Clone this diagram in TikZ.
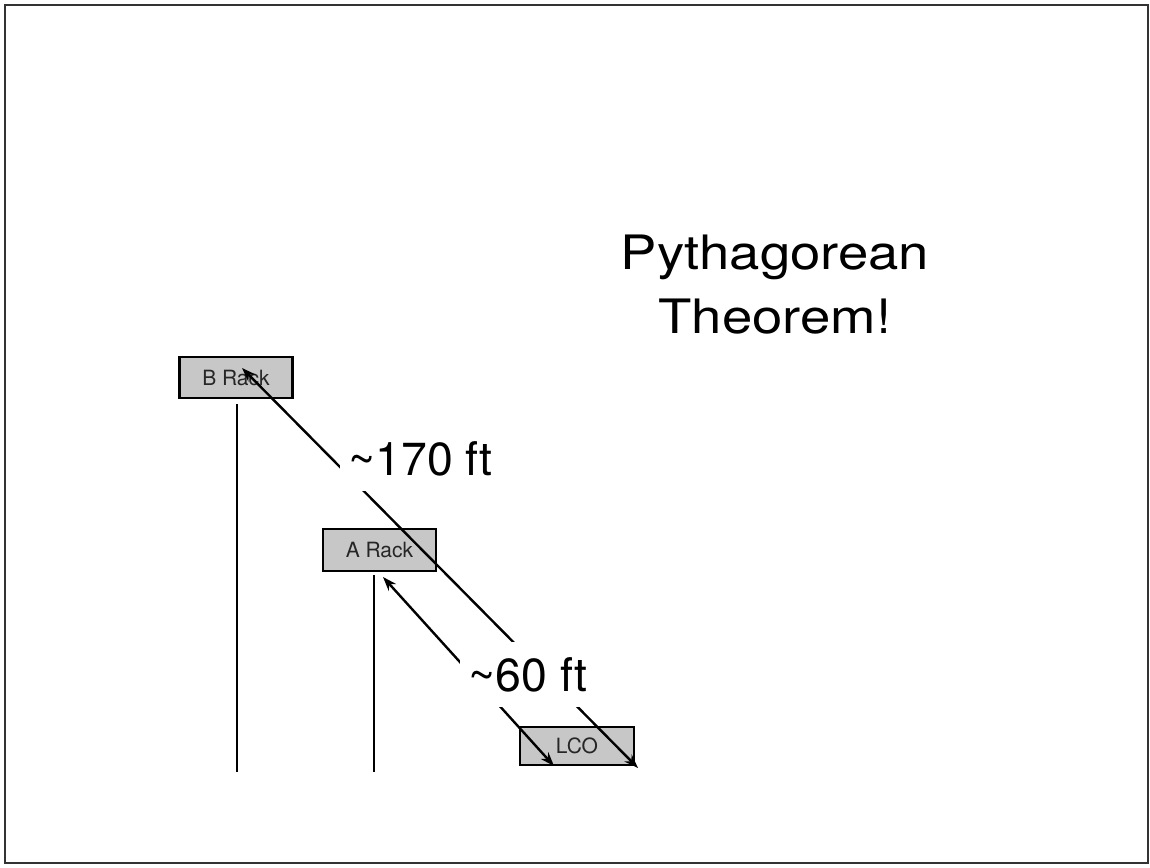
\documentclass[tikz,border=0pt]{standalone}
\usepackage{fontspec}
\setmainfont{TeX Gyre Heros}
\newfontfamily\titlefont[FakeStretch=1.15]{TeX Gyre Heros}
\usetikzlibrary{arrows.meta}
\begin{document}
\begin{tikzpicture}[x=0.5pt,y=-0.5pt,
  frame/.style={draw=black!80,line width=0.75pt},
  rack/.style={draw=black,line width=1.2pt,fill=black!22,minimum width=56.5pt,minimum height=20.5pt,inner sep=0pt,font=\fontsize{10.5}{12}\selectfont,text=black!85},
  post/.style={line width=1.3pt,black},
  arr/.style={line width=1.2pt,black,{Stealth[length=7pt,width=5pt]}-{Stealth[length=7pt,width=5pt]}},
  dist/.style={fill=white,inner xsep=4pt,inner ysep=7.5pt,font=\fontsize{23.2}{28}\selectfont,anchor=base west},
  ttl/.style={font=\titlefont\fontsize{23.7}{28}\selectfont,anchor=base,inner sep=0pt}]
\useasboundingbox (0,0) rectangle (1150,867);
\draw[frame] (5,5) rectangle (1148,863);
% racks
\node[rack] (brack) at (236,377.5) {B Rack};
\node[rack,minimum height=21pt] (arack) at (379.5,550) {A Rack};
\node[rack,minimum width=57pt,minimum height=19pt] (lco) at (577,746) {LCO};
% posts
\coordinate (btop) at (237,404);
\coordinate (bbot) at (237,772);
\coordinate (atop) at (374,575);
\coordinate (abot) at (374,772);
\draw[post] (btop) -- (bbot);
\draw[post] (atop) -- (abot);
% distance arrows
\coordinate (l1s) at (242,368);
\coordinate (l1e) at (638,768);
\coordinate (l2s) at (383,577);
\coordinate (l2e) at (554,766);
\draw[arr] (l1s) -- (l1e);
\draw[arr] (l2s) -- (l2e);
\node[dist] (d170) at (340,475) {\textasciitilde170 ft};
\node[dist] (d60) at (460,691) {\textasciitilde60 ft};
% title
\node[ttl] (t1) at (775,269) {Pythagorean};
\node[ttl] (t2) at (775,333) {Theorem!};
\end{tikzpicture}
\end{document}
